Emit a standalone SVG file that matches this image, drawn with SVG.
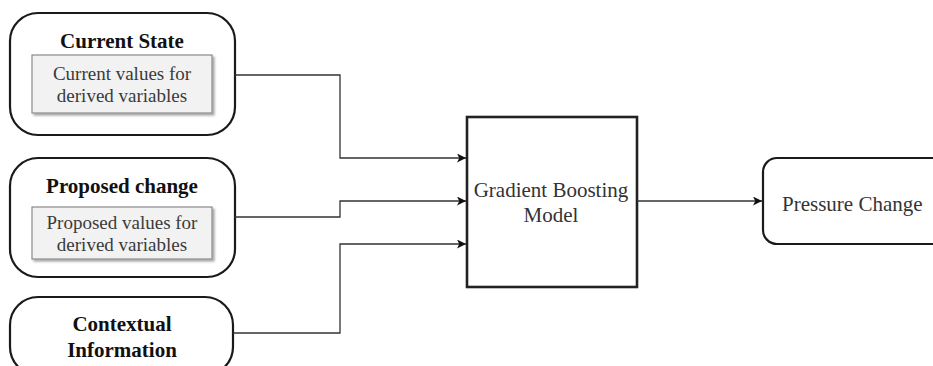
<svg xmlns="http://www.w3.org/2000/svg" width="933" height="366" viewBox="0 0 933 366">
  <defs>
    <marker id="arrow" viewBox="0 0 10 10" refX="10" refY="5" markerWidth="9" markerHeight="9" markerUnits="userSpaceOnUse" orient="auto">
      <path d="M0,0 L10,5 L0,10 L2.5,5 Z" fill="#111"/>
    </marker>
    <filter id="shadow" x="-10%" y="-10%" width="125%" height="130%">
      <feDropShadow dx="2" dy="2" stdDeviation="1.2" flood-color="#000" flood-opacity="0.35"/>
    </filter>
  </defs>
  <style>
    .group-box { fill: #fff; stroke: #1a1a1a; stroke-width: 2.2; }
    .inner-box { fill: #f2f2f2; stroke: #8a8a8a; stroke-width: 1.2; filter: url(#shadow); }
    .model-box { fill: #fff; stroke: #222; stroke-width: 2.6; }
    .title { font-family: "Liberation Serif", "Times New Roman", serif; font-size: 21px; font-weight: bold; fill: #111; text-anchor: middle; }
    .body { font-family: "Liberation Serif", "Times New Roman", serif; font-size: 19px; fill: #3a3a3a; text-anchor: middle; }
    .label { font-family: "Liberation Serif", "Times New Roman", serif; font-size: 21px; fill: #333; text-anchor: middle; }
    .label-left { font-family: "Liberation Serif", "Times New Roman", serif; font-size: 21px; fill: #333; }
    .wire { fill: none; stroke: #333; stroke-width: 1.3; }
  </style>
  <rect width="933" height="366" fill="#fff"/>

  <g id="current-state">
    <rect class="group-box" x="10" y="13" width="225" height="122" rx="28" ry="28"/>
    <text class="title" x="122" y="48">Current State</text>
    <rect class="inner-box" x="32" y="55" width="180" height="58"/>
    <text class="body" x="122" y="80">Current values for</text>
    <text class="body" x="122" y="102">derived variables</text>
  </g>

  <g id="proposed-change">
    <rect class="group-box" x="10" y="158" width="225" height="119" rx="28" ry="28"/>
    <text class="title" x="122" y="193">Proposed change</text>
    <rect class="inner-box" x="32" y="207" width="180" height="52"/>
    <text class="body" x="122" y="229">Proposed values for</text>
    <text class="body" x="122" y="251">derived variables</text>
  </g>

  <g id="contextual-information">
    <rect class="group-box" x="10" y="297" width="223" height="78" rx="28" ry="28"/>
    <text class="title" x="122" y="331">Contextual</text>
    <text class="title" x="122" y="357">Information</text>
  </g>

  <g id="gradient-boosting-model">
    <rect class="model-box" x="467" y="117" width="170" height="170"/>
    <text class="label" x="551" y="197">Gradient Boosting</text>
    <text class="label" x="551" y="222">Model</text>
  </g>

  <g id="pressure-change">
    <rect class="group-box" x="763" y="158" width="190" height="86" rx="14" ry="14"/>
    <text class="label-left" x="782" y="211">Pressure Change</text>
  </g>

  <g id="connectors">
    <path class="wire" d="M235,75 H340 V158 H466" marker-end="url(#arrow)"/>
    <path class="wire" d="M235,217 H340 V201 H466" marker-end="url(#arrow)"/>
    <path class="wire" d="M233,333 H340 V244 H466" marker-end="url(#arrow)"/>
    <path class="wire" d="M637,201 H762" marker-end="url(#arrow)"/>
  </g>
</svg>
